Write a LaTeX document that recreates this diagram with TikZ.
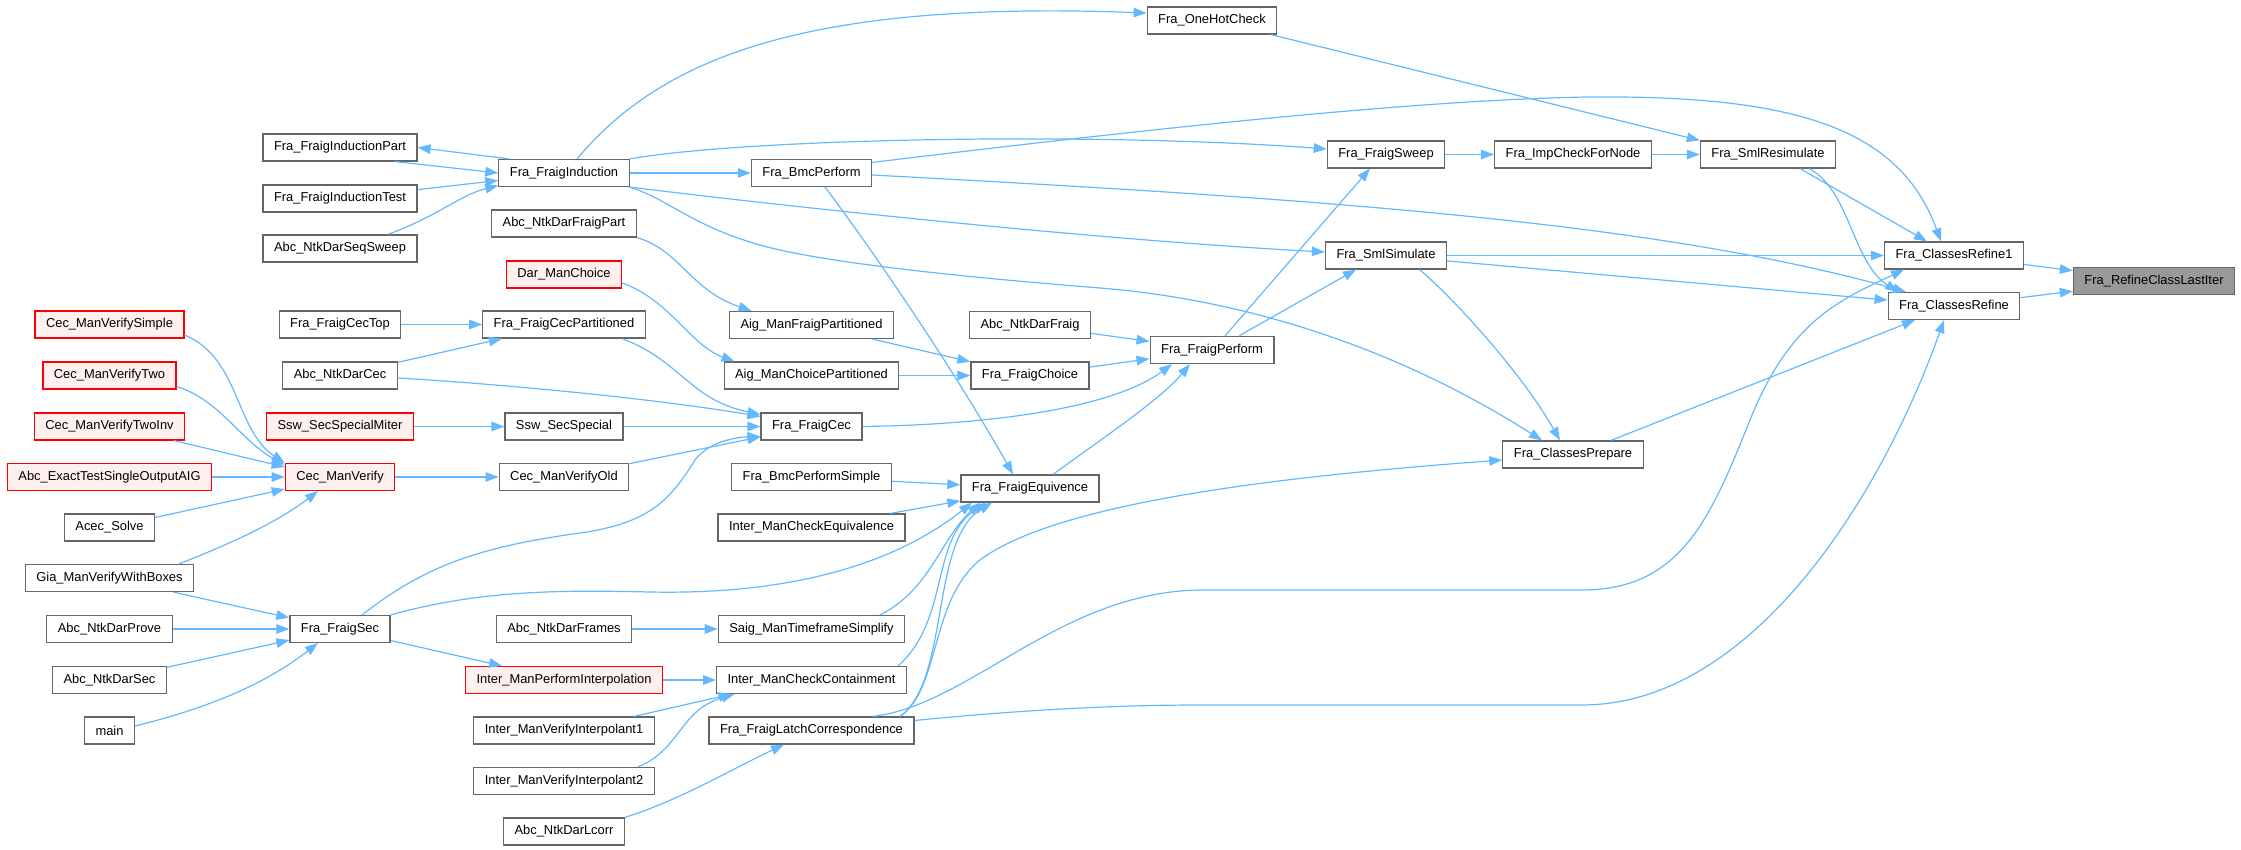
\documentclass[tikz,border=0pt]{standalone}
\usepackage{fontspec}
\setmainfont{Liberation Sans}
\usetikzlibrary{arrows.meta}
\definecolor{edgeblue}{HTML}{63B8FF}
\definecolor{nodeborder}{HTML}{666666}
\definecolor{redfill}{HTML}{FFF0F0}
\definecolor{selgray}{HTML}{999999}
\tikzset{
  fn/.style={draw=nodeborder, fill=white, line width=1.2pt, minimum height=27pt,
    inner xsep=11pt, inner ysep=0pt, font=\fontsize{12.9}{15}\selectfont},
  fnred/.style={fn, draw=red, fill=redfill},
  fnsel/.style={fn, fill=selgray},
  e/.style={draw=edgeblue, line width=1.2pt, -{Triangle[length=13pt,width=9.5pt]}}
}
\begin{document}
\begin{tikzpicture}[x=1pt,y=-1pt]
\useasboundingbox (0,0) rectangle (2241,850);
% column A
\node[fnred] (CecVS) at (109.5,324.5) {Cec\_ManVerifySimple};
\node[fnred] (CecV2) at (109.5,375.5) {Cec\_ManVerifyTwo};
\node[fnred] (CecV2Inv) at (109.5,426.5) {Cec\_ManVerifyTwoInv};
\node[fnred] (AbcExact) at (109.5,477) {Abc\_ExactTestSingleOutputAIG};
\node[fn] (Acec) at (109.5,527.5) {Acec\_Solve};
\node[fn] (Gia) at (109.5,578) {Gia\_ManVerifyWithBoxes};
\node[fn] (NtkProve) at (109.5,629) {Abc\_NtkDarProve};
\node[fn] (NtkSec) at (109.5,680) {Abc\_NtkDarSec};
\node[fn] (Main) at (109.5,730.5) {main};
% column B
\node[fn] (IndPart) at (340,147.5) {Fra\_FraigInductionPart};
\node[fn] (IndTest) at (340,198.5) {Fra\_FraigInductionTest};
\node[fn] (SeqSweep) at (340,248.5) {Abc\_NtkDarSeqSweep};
\node[fn] (CecTop) at (340,324.5) {Fra\_FraigCecTop};
\node[fn] (NtkCec) at (340,375.5) {Abc\_NtkDarCec};
\node[fnred] (SswMiter) at (340,426.5) {Ssw\_SecSpecialMiter};
\node[fnred] (CecVerify) at (340,477) {Cec\_ManVerify};
\node[fn] (FraigSec) at (340,629) {Fra\_FraigSec};
% column C
\node[fn] (FraigInd) at (564,173) {Fra\_FraigInduction};
\node[fn] (NtkFraigPart) at (564,223.5) {Abc\_NtkDarFraigPart};
\node[fnred] (DarChoice) at (564,274.5) {Dar\_ManChoice};
\node[fn] (CecPart) at (564,324.5) {Fra\_FraigCecPartitioned};
\node[fn] (SswSpecial) at (564,426.5) {Ssw\_SecSpecial};
\node[fn] (CecVerifyOld) at (564,477) {Cec\_ManVerifyOld};
\node[fn] (NtkFrames) at (564,629) {Abc\_NtkDarFrames};
\node[fnred] (InterPerf) at (564,680) {Inter\_ManPerformInterpolation};
\node[fn] (InterV1) at (564,730.5) {Inter\_ManVerifyInterpolant1};
\node[fn] (InterV2) at (564,781) {Inter\_ManVerifyInterpolant2};
\node[fn] (NtkLcorr) at (564,831.5) {Abc\_NtkDarLcorr};
% column D
\node[fn] (Bmc) at (811.5,173) {Fra\_BmcPerform};
\node[fn] (AigFraigPart) at (811.5,325) {Aig\_ManFraigPartitioned};
\node[fn] (AigChoicePart) at (811.5,375.5) {Aig\_ManChoicePartitioned};
\node[fn] (FraigCec) at (811.5,426.5) {Fra\_FraigCec};
\node[fn] (BmcSimple) at (811.5,477) {Fra\_BmcPerformSimple};
\node[fn] (InterCheckEq) at (811.5,527.5) {Inter\_ManCheckEquivalence};
\node[fn] (Saig) at (811.5,629) {Saig\_ManTimeframeSimplify};
\node[fn] (InterCont) at (811.5,680) {Inter\_ManCheckContainment};
\node[fn] (Latch) at (811.5,730.5) {Fra\_FraigLatchCorrespondence};
% column E
\node[fn] (NtkFraig) at (1030,325) {Abc\_NtkDarFraig};
\node[fn] (FraigChoice) at (1030,375.5) {Fra\_FraigChoice};
\node[fn] (FraigEquiv) at (1030,488.5) {Fra\_FraigEquivence};
% column F
\node[fn] (OneHot) at (1212,20.5) {Fra\_OneHotCheck};
\node[fn] (FraigPerform) at (1212,350) {Fra\_FraigPerform};
% column G
\node[fn] (FraigSweep) at (1386,154.5) {Fra\_FraigSweep};
\node[fn] (SmlSim) at (1386,255.5) {Fra\_SmlSimulate};
% column H
\node[fn] (ImpCheck) at (1573,154.5) {Fra\_ImpCheckForNode};
\node[fn] (ClassesPrepare) at (1573,454.5) {Fra\_ClassesPrepare};
% column I
\node[fn] (SmlResim) at (1768,154.5) {Fra\_SmlResimulate};
% column J
\node[fn] (Refine1) at (1954,255.5) {Fra\_ClassesRefine1};
\node[fn] (Refine) at (1954,306) {Fra\_ClassesRefine};
% column K
\node[fnsel] (LastIter) at (2154,281) {Fra\_RefineClassLastIter};

% ---- edges ----
\draw[e] (Refine1) -- (LastIter);
\draw[e] (Refine) -- (LastIter);
\draw[e] ([xshift=32pt]SmlResim.south) -- ([xshift=-27pt]Refine1.north);
\draw[e] ([xshift=41pt]SmlResim.south) .. controls (1850,190) and (1852,262) .. ([xshift=-56pt]Refine.north);
\draw[e] (SmlSim) -- (Refine1);
\draw[e] (SmlSim) -- (Refine);
\draw[e] ([yshift=-3.5pt]Bmc.north east) .. controls (1100,135) and (1400,100) .. (1588,97) .. controls (1800,95) and (1900,130) .. ([xshift=-13pt]Refine1.north);
\draw[e] ([yshift=-2pt]Bmc.east) .. controls (1300,198) and (1650,220) .. ([xshift=-48pt]Refine.north);
\draw[e] ([xshift=38pt]ClassesPrepare.north) -- ([xshift=-39pt]Refine.south);
\draw[e] ([xshift=61.5pt]Latch.north) .. controls (970,705) and (1060,592) .. (1200,590) -- (1582,590) .. controls (1680,590) and (1710,520) .. (1750,420) .. controls (1790,320) and (1840,300) .. ([xshift=-50pt]Refine1.south);
\draw[e] ([yshift=10pt]Latch.east) .. controls (1000,712) and (1100,705) .. (1200,705) -- (1582,705) .. controls (1750,705) and (1880,500) .. ([xshift=-10pt]Refine.south);
\draw[e] ([xshift=88.5pt]Latch.north) .. controls (940,690) and (930,600) .. (980,560) .. controls (1060,500) and (1300,475) .. ([yshift=-5.5pt]ClassesPrepare.west);
\draw[e] (FraigSec.north east) .. controls (480,590) and (560,590) .. (650,592) .. controls (800,595) and (900,560) .. ([xshift=-58pt]FraigEquiv.south);
\draw[e] ([xshift=68.5pt]Saig.north) .. controls (930,590) and (940,540) .. ([xshift=-50pt]FraigEquiv.south);
\draw[e] ([xshift=86.5pt]InterCont.north) .. controls (950,620) and (930,540) .. ([xshift=-44pt]FraigEquiv.south);
\draw[e] ([xshift=88.5pt]Latch.north) .. controls (950,680) and (930,540) .. ([xshift=-38pt]FraigEquiv.south);
\draw[e] (BmcSimple) -- (FraigEquiv);
\draw[e] (InterCheckEq) -- (FraigEquiv);
\draw[e] ([xshift=13.5pt]Bmc.south) .. controls (880,260) and (960,380) .. ([xshift=-17pt]FraigEquiv.north);
\draw[e] ([xshift=23pt]FraigEquiv.north) .. controls (1100,440) and (1160,400) .. ([xshift=-22pt]FraigPerform.south);
\draw[e] (FraigCec.east) .. controls (980,425) and (1110,410) .. ([xshift=-40pt]FraigPerform.south);
\draw[e] (FraigChoice) -- (FraigPerform);
\draw[e] (NtkFraig) -- (FraigPerform);
\draw[e] (AigFraigPart) -- (FraigChoice);
\draw[e] (AigChoicePart) -- (FraigChoice);
\draw[e] (NtkFraigPart.south east) .. controls (680,250) and (690,290) .. ([xshift=-60pt]AigFraigPart.north);
\draw[e] ([yshift=-8.5pt]DarChoice.east) .. controls (670,300) and (690,345) .. ([xshift=-77pt]AigChoicePart.north);
\draw[e] ([xshift=-55pt]FraigInd.north) -- (IndPart.east);
\draw[e] ([xshift=55pt]IndPart.south) -- (FraigInd.west);
\draw[e] (IndTest) -- (FraigInd);
\draw[e] ([xshift=48pt]SeqSweep.north) .. controls (440,215) and (460,195) .. ([yshift=1.5pt]FraigInd.south west);
\draw[e] (FraigInd) -- (Bmc);
\draw[e] (FraigInd.north east) .. controls (750,138) and (1100,132) .. ([yshift=5.5pt]FraigSweep.west);
\draw[e] (FraigInd.south east) .. controls (800,208) and (1100,240) .. ([yshift=3.5pt]SmlSim.west);
\draw[e] (FraigInd.south east) .. controls (670,200) and (690,225) .. (760,245) .. controls (830,265) and (1000,280) .. (1100,288) .. controls (1250,300) and (1400,350) .. ([xshift=-31pt]ClassesPrepare.north);
\draw[e] ([xshift=13pt]FraigInd.north) .. controls (660,60) and (800,0) .. ([yshift=7.5pt]OneHot.west);
\draw[e] ([xshift=59pt]OneHot.south) -- (SmlResim.north west);
\draw[e] (FraigSweep) -- (ImpCheck);
\draw[e] (ImpCheck) -- (SmlResim);
\draw[e] ([xshift=13pt]FraigPerform.north) -- ([xshift=-16pt]FraigSweep.south);
\draw[e] ([xshift=27pt]FraigPerform.north) -- ([xshift=-30pt]SmlSim.south);
\draw[e] ([xshift=33.5pt]SmlSim.south) .. controls (1450,295) and (1520,370) .. ([xshift=-13pt]ClassesPrepare.north);
\draw[e] ([xshift=58pt]CecPart.south) .. controls (680,360) and (690,400) .. ([yshift=12pt]FraigCec.west);
\draw[e] ([yshift=-2.5pt]NtkCec.east) .. controls (500,384) and (650,398) .. ([yshift=10pt]FraigCec.west);
\draw[e] (NtkCec) -- (CecPart);
\draw[e] (CecTop) -- (CecPart);
\draw[e] (SswMiter) -- (SswSpecial);
\draw[e] (SswSpecial) -- (FraigCec);
\draw[e] (CecVerifyOld) -- (FraigCec);
\draw[e] ([xshift=22pt]FraigSec.north) .. controls (420,570) and (470,548) .. (580,533) .. controls (650,523) and (670,500) .. (695,460) .. controls (710,440) and (740,437) .. ([yshift=-10pt]FraigCec.west);
\draw[e] (CecVerify) -- (CecVerifyOld);
\draw[e] ([yshift=-10.5pt]CecVS.east) .. controls (240,358) and (235,430) .. (CecVerify.north west);
\draw[e] ([yshift=-11pt]CecV2.east) .. controls (220,400) and (240,440) .. ([yshift=-2pt]CecVerify.north west);
\draw[e] ([xshift=64.5pt]CecV2Inv.south) -- ([yshift=10pt]CecVerify.west);
\draw[e] (AbcExact) -- (CecVerify);
\draw[e] (Acec) -- (CecVerify);
\draw[e] ([xshift=69.5pt]Gia.north) .. controls (240,540) and (280,520) .. ([xshift=-22pt]CecVerify.south);
\draw[e] (Gia) -- (FraigSec);
\draw[e] (NtkProve) -- (FraigSec);
\draw[e] (NtkSec) -- (FraigSec);
\draw[e] ([yshift=4.5pt]Main.east) .. controls (220,705) and (270,680) .. ([xshift=-22pt]FraigSec.south);
\draw[e] (FraigSec) -- (InterPerf);
\draw[e] (NtkFrames) -- (Saig);
\draw[e] (InterPerf) -- (InterCont);
\draw[e] ([xshift=70pt]InterV1.north) -- ([xshift=-80pt]InterCont.south);
\draw[e] ([xshift=74pt]InterV2.north) .. controls (680,750) and (680,710) .. ([xshift=-77pt]InterCont.south);
\draw[e] ([xshift=61pt]NtkLcorr.north) .. controls (680,800) and (730,770) .. ([xshift=-27.5pt]Latch.south);
\end{tikzpicture}
\end{document}
